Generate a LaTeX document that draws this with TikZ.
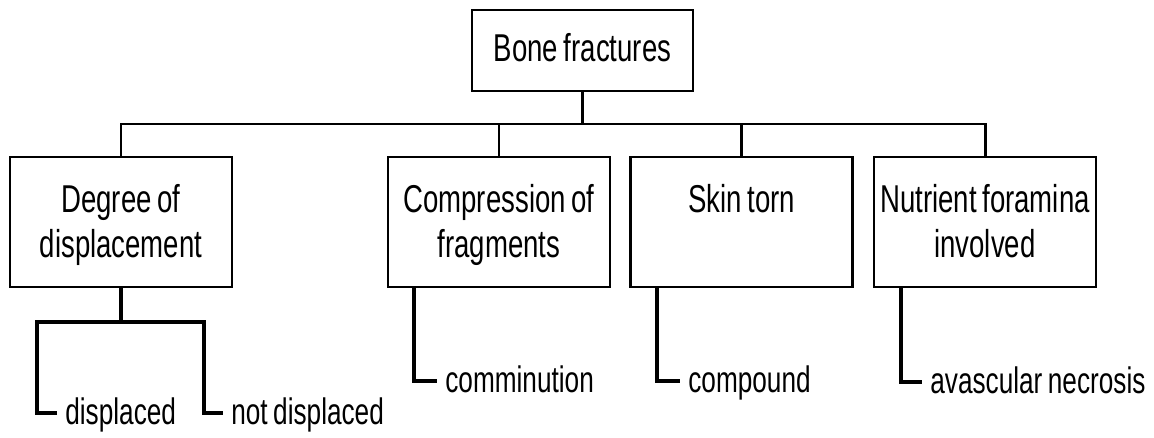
\documentclass[tikz,border=0pt]{standalone}
\usepackage{fontspec}
\setmainfont{Liberation Sans}[FakeStretch=0.71, WordSpace=0.75]
\usepackage{tikz}

\newcommand{\twolines}[2]{\rule{0pt}{0.7cm}#1\\#2\rule[-0.18cm]{0pt}{0pt}}

\begin{document}
\begin{tikzpicture}[x=0.02cm, y=-0.02cm,
  rootbox/.style={draw, line width=1.5pt, minimum width=4.42cm, minimum height=1.62cm, inner sep=0pt, text height=0.56cm, text depth=0.14cm, font=\fontsize{22.1}{26}\selectfont},
  catbox/.style={draw, line width=1.5pt, text width=4.4cm, inner xsep=0.02cm, inner ysep=0pt, minimum height=2.6cm, align=flush center, font=\fontsize{22.1}{26.08}\selectfont},
  leaf/.style={anchor=west, inner xsep=0.16cm, inner ysep=0pt, text height=0.55cm, text depth=0.08cm, font=\fontsize{21}{25}\selectfont},
  bus/.style={line width=1.7pt},
  drop/.style={line width=1.3pt},
  leafline/.style={line width=2.27pt}]
\useasboundingbox (0,0) rectangle (1154,437);

% ===== Top level =====
\node[rootbox] (root) at (582.5,50.5) {Bone fractures};

% ===== Categories =====
\node[catbox] (deg)  at (121,222)   {\twolines{Degree of}{displacement}};
\node[catbox] (comp) at (499,222)   {\twolines{Compression of}{fragments}};
\node[catbox] (skin) at (741.5,222) {\twolines{Skin torn}{}};
\node[catbox] (nutr) at (985,222)   {\twolines{Nutrient foramina}{involved}};

% Bus line from the root
\coordinate (fork) at (582.5,124);
\draw[bus] (root.south) -- (fork);
\draw[bus] (deg.north) |- (fork) -| (nutr.north);
\draw[drop] (comp.north) -- (comp.north |- fork);
\draw[drop] (skin.north) -- (skin.north |- fork);

% ===== Leaves =====
\node[leaf] (disp)  at (57,413)  {displaced};
\node[leaf] (ndisp) at (223,413) {not displaced};
\node[leaf] (commi) at (437,381) {comminution};
\node[leaf] (compd) at (680,381) {compound};
\node[leaf] (avasc) at (922,382) {avascular necrosis};

% Degree of displacement splits in two
\coordinate (split)  at (121,322);
\coordinate (splitl) at (37,322);
\coordinate (splitr) at (204,322);
\draw[leafline] (deg.south) -- (split);
\draw[leafline] (disp.west) -| (splitl) -- (splitr) |- (ndisp.west);

% Single leaves hang off the left of their box
\draw[leafline] ([xshift=0.54cm]comp.south west) |- (commi.west);
\draw[leafline] ([xshift=0.56cm]skin.south west) |- (compd.west);
\draw[leafline] ([xshift=0.56cm]nutr.south west) |- (avasc.west);
\end{tikzpicture}
\end{document}
